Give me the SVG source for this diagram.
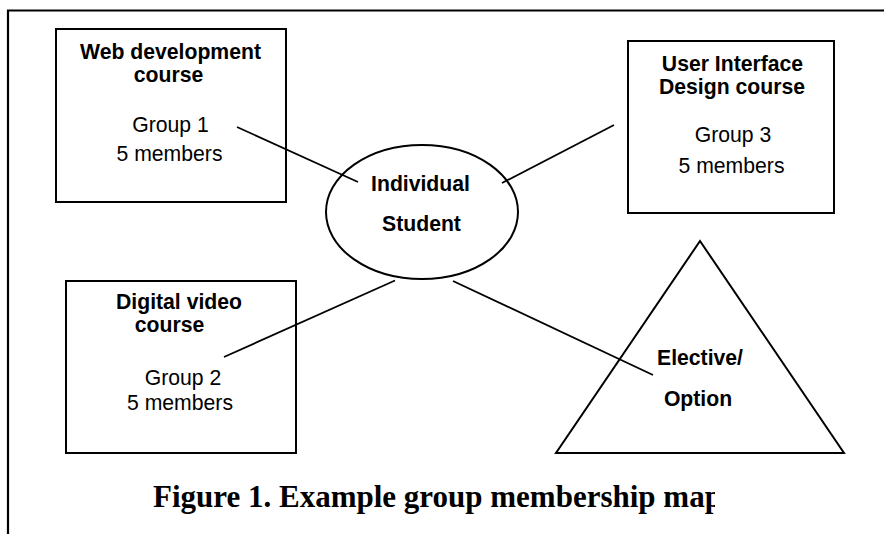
<svg xmlns="http://www.w3.org/2000/svg" width="884" height="535" viewBox="0 0 884 535">
<style>
.shape{fill:#fff;stroke:#000;stroke-width:2}
.conn line{stroke:#000;stroke-width:1.8}
.frame{stroke:#000;stroke-width:2.2;fill:none}
.t{font-family:"Liberation Sans",Arial,sans-serif;font-size:21.2px;fill:#000;text-anchor:middle}
.b{font-weight:bold}
.cap{font-family:"Liberation Serif","Times New Roman",serif;font-size:31px;font-weight:bold;fill:#000}
</style>
<defs>
<clipPath id="capclip"><rect x="0" y="440" width="715" height="95"/></clipPath>
</defs>
<rect width="884" height="535" fill="#fff"/>
<g id="frame">
<path class="frame" d="M8,534 V10.5 H884"/>
</g>
<g id="web">
<rect class="shape" x="56" y="29" width="230" height="173"/>
<text class="t b" x="170.5" y="59">Web development</text>
<text class="t b" x="168.5" y="82">course</text>
<text class="t" x="170.5" y="131.5">Group 1</text>
<text class="t" x="169.5" y="161">5 members</text>
</g>
<g id="ui">
<rect class="shape" x="628" y="41" width="206" height="172"/>
<text class="t b" x="732.5" y="71">User Interface</text>
<text class="t b" x="732" y="93.5">Design course</text>
<text class="t" x="733" y="142">Group 3</text>
<text class="t" x="731.5" y="173">5 members</text>
</g>
<g id="digital">
<rect class="shape" x="66" y="281" width="230" height="172"/>
<text class="t b" x="179" y="309">Digital video</text>
<text class="t b" x="169.5" y="331.5">course</text>
<text class="t" x="183" y="385">Group 2</text>
<text class="t" x="180" y="410">5 members</text>
</g>
<g id="student">
<ellipse class="shape" cx="422" cy="212" rx="96" ry="67"/>
<text class="t b" x="420.5" y="191">Individual</text>
<text class="t b" x="421.5" y="230.5">Student</text>
</g>
<g id="elective">
<polygon class="shape" points="700,241 844,453 556,453"/>
<text class="t b" x="700" y="365">Elective/</text>
<text class="t b" x="698" y="406">Option</text>
</g>
<g id="connectors" class="conn">
<line x1="237" y1="127" x2="358" y2="182"/>
<line x1="502" y1="183" x2="614" y2="125"/>
<line x1="224" y1="357" x2="395" y2="280.5"/>
<line x1="453" y1="281" x2="653" y2="375"/>
</g>
<g id="caption">
<text class="cap" x="153" y="507" clip-path="url(#capclip)">Figure 1. Example group membership map</text>
</g>
</svg>
